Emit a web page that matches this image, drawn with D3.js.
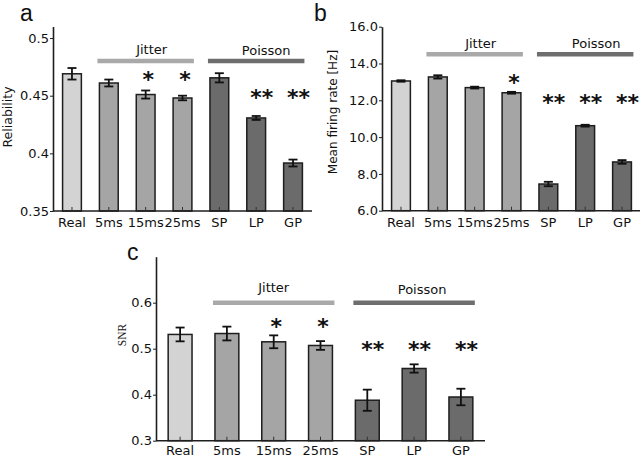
<!DOCTYPE html>
<html><head><meta charset="utf-8">
<script src="https://cdn.jsdelivr.net/npm/d3@7"></script>
<style>
html,body{margin:0;padding:0;background:#fff;}
svg{display:block;}
</style></head>
<body>
<svg id="chart" width="640" height="458"></svg>
<script>
// ---------- data ----------
const categories = ["Real","5ms","15ms","25ms","SP","LP","GP"];
const groupOf = ["real","jitter","jitter","jitter","poisson","poisson","poisson"];
const groupNames = ["Jitter","Poisson"];

const reliability    = [0.469, 0.461, 0.451, 0.448, 0.4655, 0.4307, 0.3916];
const reliabilityErr = [0.005, 0.003, 0.0035, 0.002, 0.004, 0.0017, 0.003];
const reliabilityStars = ["", "", "*", "*", "", "**", "**"];
const reliabilityTicks = [0.35, 0.4, 0.45, 0.5];
const reliabilityTickLabels = ["0.35", "0.4", "0.45", "0.5"];

const firingRate    = [13.05, 13.27, 12.69, 12.41, 7.45, 10.62, 8.65];
const firingRateErr = [0.04, 0.09, 0.05, 0.05, 0.12, 0.05, 0.1];
const firingRateStars = ["", "", "", "*", "**", "**", "**"];
const firingRateTicks = [6, 8, 10, 12, 14, 16];
const firingRateTickLabels = ["6.0", "8.0", "10.0", "12.0", "14.0", "16.0"];

const snr    = [0.531, 0.533, 0.515, 0.507, 0.388, 0.457, 0.395];
const snrErr = [0.015, 0.015, 0.014, 0.0095, 0.023, 0.009, 0.018];
const snrStars = ["", "", "*", "*", "**", "**", "**"];
const snrTicks = [0.3, 0.4, 0.5, 0.6];
const snrTickLabels = ["0.3", "0.4", "0.5", "0.6"];

// ---------- styles ----------
const fillOf = {real:"#d3d3d3", jitter:"#a5a5a5", poisson:"#6b6b6b"};
const lineOf = {Jitter:"#a9a9a9", Poisson:"#6e6e6e"};
const SANS = '"DejaVu Sans", sans-serif';

const svg = d3.select("#chart");

function panel(cfg){
  const g = svg.append("g");
  const x = d3.scaleBand().domain(categories).range(cfg.xr)
      .paddingInner(0.49).paddingOuter(0.26);
  const y = d3.scaleLinear().domain(cfg.yd).range(cfg.yr);
  const bw = x.bandwidth();
  const rows = categories.map((c,i)=>({c, v:cfg.values[i], e:cfg.errs[i], grp:groupOf[i], s:cfg.stars[i]}));

  // bars
  g.selectAll("rect.bar").data(rows).join("rect")
    .attr("x", d=>x(d.c)).attr("width", bw)
    .attr("y", d=>y(d.v)).attr("height", d=>y(cfg.yd[0])-y(d.v))
    .attr("fill", d=>fillOf[d.grp]).attr("stroke","#1e1e1e").attr("stroke-width",1.5);

  // x axis (inward ticks)
  const xa = g.append("g").attr("transform",`translate(0,${cfg.yr[0]})`)
    .call(d3.axisBottom(x).tickSizeInner(-4).tickSizeOuter(0).tickPadding(cfg.xPad));
  xa.select(".domain").attr("stroke","#1e1e1e").attr("stroke-width",1.6)
    .attr("d", `M${cfg.xr[0]},0H${cfg.xr[1]}`);
  xa.selectAll(".tick line").attr("stroke","#333").attr("stroke-width",1);
  xa.selectAll("text").style("font-size","13px").style("font-family",SANS).attr("fill","#111");

  // y axis
  const ya = g.append("g").attr("transform",`translate(${cfg.xr[0]},0)`)
    .call(d3.axisLeft(y).tickValues(cfg.ticks).tickFormat((d,i)=>cfg.tickLabels[i])
      .tickSizeInner(3).tickSizeOuter(0).tickPadding(1));
  ya.select(".domain").attr("stroke","#1e1e1e").attr("stroke-width",1.6);
  ya.selectAll(".tick line").attr("stroke","#1e1e1e");
  ya.selectAll("text").style("font-size","13px").style("font-family",SANS).attr("fill","#111");

  // error bars
  const cap = 4.5;
  const eb = g.selectAll("g.err").data(rows).join("g")
    .attr("transform", d=>`translate(${x(d.c)+bw/2},0)`);
  eb.append("line").attr("y1",d=>y(d.v+d.e)).attr("y2",d=>y(d.v-d.e))
    .attr("stroke","#111").attr("stroke-width",1.8);
  eb.append("line").attr("x1",-cap).attr("x2",cap).attr("y1",d=>y(d.v+d.e)).attr("y2",d=>y(d.v+d.e))
    .attr("stroke","#111").attr("stroke-width",1.8);
  eb.append("line").attr("x1",-cap).attr("x2",cap).attr("y1",d=>y(d.v-d.e)).attr("y2",d=>y(d.v-d.e))
    .attr("stroke","#111").attr("stroke-width",1.8);

  // stars
  g.selectAll("text.star").data(rows.filter(d=>d.s)).join("text")
    .attr("class","star")
    .attr("x", d=>x(d.c)+bw/2 + (d.s.length===2?5.5:2.5))
    .attr("y", d=>y(d.s.length===2?cfg.doubleStarY:cfg.singleStarY)+13)
    .attr("text-anchor","middle").style("font-size","22px").style("font-family",SANS)
    .style("font-weight","bold").attr("fill","#111")
    .text(d=>d.s);

  // group lines
  const spans = [[1,3],[4,6]];
  groupNames.forEach((name,k)=>{
    const x0 = x(categories[spans[k][0]])-2, x1 = x(categories[spans[k][1]])+bw+2;
    const ly = y(cfg.groupLineY);
    g.append("line").attr("x1",x0).attr("x2",x1).attr("y1",ly).attr("y2",ly)
      .attr("stroke",lineOf[name]).attr("stroke-width",4.5);
    g.append("text").attr("x",(x0+x1)/2 + cfg.labelDx[k]).attr("y",ly+cfg.labelDy[k])
      .attr("text-anchor","middle").style("font-size","13px").style("font-family",SANS)
      .attr("fill","#111").text(name);
  });

  // y label
  g.append("text").attr("transform",`translate(${cfg.ylx},${cfg.yly}) rotate(-90)`)
    .attr("text-anchor","middle").style("font-size",cfg.ylabelSize+"px")
    .style("font-family",cfg.ylabelFont).attr("fill","#111").text(cfg.ylabel);

  // panel letter
  g.append("text").attr("x",cfg.letterX).attr("y",cfg.letterY)
    .style("font-family",'"Liberation Sans", Arial, sans-serif').style("font-size","23px")
    .attr("fill","#111").text(cfg.letter);
}

panel({values:reliability, errs:reliabilityErr, stars:reliabilityStars,
  ticks:reliabilityTicks, tickLabels:reliabilityTickLabels,
  xr:[53,312], yd:[0.35,0.51], yr:[211,26.5], xPad:7,
  singleStarY:0.469, doubleStarY:0.453, groupLineY:0.480,
  labelDx:[6,10], labelDy:[-7,-6],
  ylabel:"Reliability", ylx:12, yly:117, ylabelSize:12.5, ylabelFont:SANS,
  letter:"a", letterX:20, letterY:21});

panel({values:firingRate, errs:firingRateErr, stars:firingRateStars,
  ticks:firingRateTicks, tickLabels:firingRateTickLabels,
  xr:[382,641], yd:[6,16], yr:[210.7,26.7], xPad:7,
  singleStarY:13.27, doubleStarY:12.18, groupLineY:14.5,
  labelDx:[6,11], labelDy:[-6.5,-6],
  ylabel:"Mean firing rate [Hz]", ylx:337, yly:112, ylabelSize:12, ylabelFont:SANS,
  letter:"b", letterX:314, letterY:21});

panel({values:snr, errs:snrErr, stars:snrStars,
  ticks:snrTicks, tickLabels:snrTickLabels,
  xr:[156,485], yd:[0.3,0.7], yr:[440.7,256.7], xPad:5.5,
  singleStarY:0.560, doubleStarY:0.51, groupLineY:0.6,
  labelDx:[0,8], labelDy:[-11,-9],
  ylabel:"SNR", ylx:126, yly:335, ylabelSize:11.5, ylabelFont:'"Liberation Serif", "Times New Roman", serif',
  letter:"c", letterX:127, letterY:260});
</script>
</body></html>
